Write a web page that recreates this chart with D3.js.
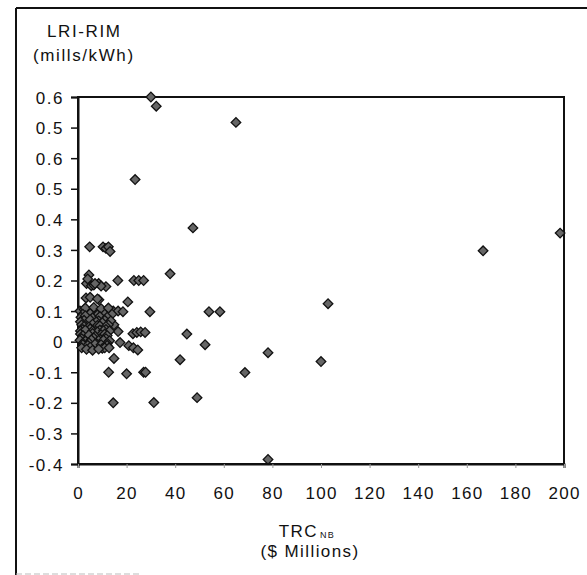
<!DOCTYPE html>
<html>
<head>
<meta charset="utf-8">
<script src="https://cdn.jsdelivr.net/npm/d3@7"></script>
<style>
  body { margin: 0; background: #fff; }
  text { font-family: "Liberation Sans", Arial, sans-serif; fill: #111; }
</style>
</head>
<body>
<svg id="chart" width="587" height="575"></svg>
<script>
// TRC_NB ($ Millions) and LRI-RIM (mills/kWh)
const trcValues = [
  30.0, 32.2, 65.0, 23.5, 47.3, 37.9, 16.4, 23.0, 25.0, 27.0,
  20.5, 29.6, 53.9, 58.4, 102.9, 44.8, 52.3, 42.0, 78.2, 100.0,
  68.7, 31.2, 49.0, 78.2, 166.7, 198.4, 14.8, 12.6, 20.0, 27.0,
  27.8, 14.5, 17.3, 20.9, 22.8, 24.6, 22.6, 24.2, 25.8, 27.6,
  4.8, 10.3, 11.5, 12.5, 13.2, 4.5, 3.5, 5.5, 8.5, 11.5,
  3.3, 8.6, 14.8, 16.5,
  4.0, 6.5, 9.5, 7.0, 5.0, 8.0,
  0.8, 2.5, 4.0, 5.5, 7.0, 8.5, 10.0, 11.5, 13.0, 14.5, 16.5, 18.5,
  3.0, 6.5, 9.5, 12.5,
  2.0, 5.0, 8.0, 11.0, 14.0,
  1.2, 3.0, 6.0, 9.0, 12.0,
  2.5, 5.0, 8.5, 11.0,
  1.0, 7.5, 10.0, 13.5,
  1.5, 6.0, 8.0, 12.5,
  2.5, 4.5, 9.0, 11.5,
  2.0, 5.0, 9.0, 11.5,
  1.0, 3.0, 6.0, 8.0, 10.5, 13.0,
  1.0, 6.0, 9.5, 11.0,
  2.0, 4.5, 7.0, 12.0,
  1.5, 6.5, 9.0, 11.5,
  0.8, 3.0, 5.5, 8.5, 10.5, 13.0,
  2.0, 4.5, 7.5, 12.0,
  2.0, 4.0, 7.0, 9.5, 12.0,
  1.5, 5.0, 10.0, 11.0,
  3.5, 6.0, 8.5, 12.8
];
const lriValues = [
  0.80, 0.77, 0.717, 0.53, 0.372, 0.222, 0.20, 0.20, 0.20, 0.20,
  0.13, 0.098, 0.098, 0.098, 0.124, 0.025, -0.01, -0.059, -0.036, -0.065,
  -0.101, -0.199, -0.183, -0.385, 0.297, 0.355, -0.055, -0.10, -0.105, -0.10,
  -0.10, -0.20, -0.003, -0.013, -0.02, -0.027, 0.026, 0.03, 0.032, 0.03,
  0.31, 0.31, 0.305, 0.31, 0.295, 0.218, 0.19, 0.183, 0.19, 0.18,
  0.143, 0.137, 0.055, 0.033,
  0.205, 0.185, 0.182, 0.19, 0.145, 0.14,
  0.10, 0.105, 0.098, 0.102, 0.10, 0.097, 0.103, 0.10, 0.098, 0.10, 0.10, 0.098,
  0.11, 0.112, 0.108, 0.11,
  0.09, 0.092, 0.088, 0.09, 0.09,
  0.08, 0.085, 0.078, 0.082, 0.08,
  0.07, 0.072, 0.068, 0.07,
  0.065, 0.065, 0.062, 0.068,
  0.055, 0.057, 0.053, 0.055,
  0.05, 0.048, 0.052, 0.05,
  0.04, 0.042, 0.038, 0.04,
  0.035, 0.038, 0.035, 0.032, 0.036, 0.035,
  0.025, 0.027, 0.023, 0.025,
  0.02, 0.022, 0.018, 0.02,
  0.01, 0.012, 0.008, 0.01,
  0.005, 0.002, 0.006, 0.004, 0.005, 0.003,
  -0.005, -0.004, -0.006, -0.005,
  -0.01, -0.012, -0.008, -0.01, -0.012,
  -0.02, -0.018, -0.022, -0.02,
  -0.025, -0.028, -0.024, -0.02
];
const xTicks = [0, 20, 40, 60, 80, 100, 120, 140, 160, 180, 200];
const yTicks = [-0.4, -0.3, -0.2, -0.1, 0, 0.1, 0.2, 0.3, 0.4, 0.5, 0.6, 0.7, 0.8];
const yTickLabels = ["-0.4", "-0.3", "-0.2", "-0.1", "0", "0.1", "0.2", "0.3", "0.4", "0.5", "0.6", "0.5", "0.6"];

const svg = d3.select("#chart");
const plot = { left: 78, right: 564, top: 97, bottom: 464 };

const xScale = d3.scaleLinear().domain([0, 200]).range([plot.left, plot.right]);
const yScale = d3.scaleLinear().domain([-0.4, 0.8]).range([plot.bottom, plot.top]);

// outer figure frame (partly cut off in the scan)
svg.append("line").attr("x1", 16).attr("x2", 16).attr("y1", 8).attr("y2", 575)
  .attr("stroke", "#111").attr("stroke-width", 2);
svg.append("line").attr("x1", 16).attr("x2", 587).attr("y1", 8).attr("y2", 8)
  .attr("stroke", "#111").attr("stroke-width", 2);
svg.append("line").attr("x1", 16).attr("x2", 140).attr("y1", 574).attr("y2", 574)
  .attr("stroke", "#bbb").attr("stroke-width", 1).attr("stroke-dasharray", "6,3");

// plot box
svg.append("rect")
  .attr("x", plot.left).attr("y", plot.top)
  .attr("width", plot.right - plot.left).attr("height", plot.bottom - plot.top)
  .attr("fill", "none").attr("stroke", "#111").attr("stroke-width", 2);

const axisY = d3.axisLeft(yScale)
  .tickValues(yTicks)
  .tickSize(7)
  .tickPadding(7)
  .tickFormat((d, i) => yTickLabels[i]);

const axisX = d3.axisBottom(xScale)
  .tickValues(xTicks)
  .tickSize(4)
  .tickPadding(19)
  .tickFormat(d3.format("d"));

const axisYGroup = svg.append("g")
  .attr("transform", `translate(${plot.left},0)`)
  .call(axisY);
const axisXGroup = svg.append("g")
  .attr("transform", `translate(0,${plot.bottom})`)
  .call(axisX);

axisYGroup.select(".domain").attr("stroke", "#111").attr("stroke-width", 2);
axisYGroup.selectAll(".tick line").attr("stroke", "#111").attr("stroke-width", 1.5);
axisYGroup.selectAll(".tick text")
  .attr("font-size", 17).attr("letter-spacing", 1.5).attr("dy", "0.36em")
  .attr("fill", "#111");

axisXGroup.select(".domain").attr("stroke", "#111").attr("stroke-width", 2);
axisXGroup.selectAll(".tick line").attr("stroke", "#999").attr("stroke-width", 1);
axisXGroup.selectAll(".tick text")
  .attr("font-size", 17).attr("letter-spacing", 1.3).attr("fill", "#111");

// axis titles
svg.append("text").attr("x", 47).attr("y", 37)
  .attr("font-size", 17).attr("letter-spacing", 1.6).text("LRI-RIM");
svg.append("text").attr("x", 33).attr("y", 61)
  .attr("font-size", 17).attr("letter-spacing", 1.6).text("(mills/kWh)");

const xTitle = svg.append("text").attr("x", 307).attr("y", 537)
  .attr("text-anchor", "middle").attr("font-size", 17).attr("letter-spacing", 1.4);
xTitle.append("tspan").text("TRC");
xTitle.append("tspan").attr("font-size", 9).attr("dy", 1).attr("dx", 2).text("NB");
svg.append("text").attr("x", 310).attr("y", 557)
  .attr("text-anchor", "middle").attr("font-size", 17).attr("letter-spacing", 1.4)
  .text("($ Millions)");

// diamonds
const diamond = d3.symbol().type(d3.symbolSquare).size(46);
svg.append("g")
  .selectAll("path")
  .data(d3.range(trcValues.length))
  .join("path")
  .attr("d", diamond)
  .attr("transform", (i) => `translate(${xScale(trcValues[i])},${yScale(lriValues[i])}) rotate(45)`)
  .attr("fill", "#666")
  .attr("stroke", "#111")
  .attr("stroke-width", 1.3);
</script>
</body>
</html>
